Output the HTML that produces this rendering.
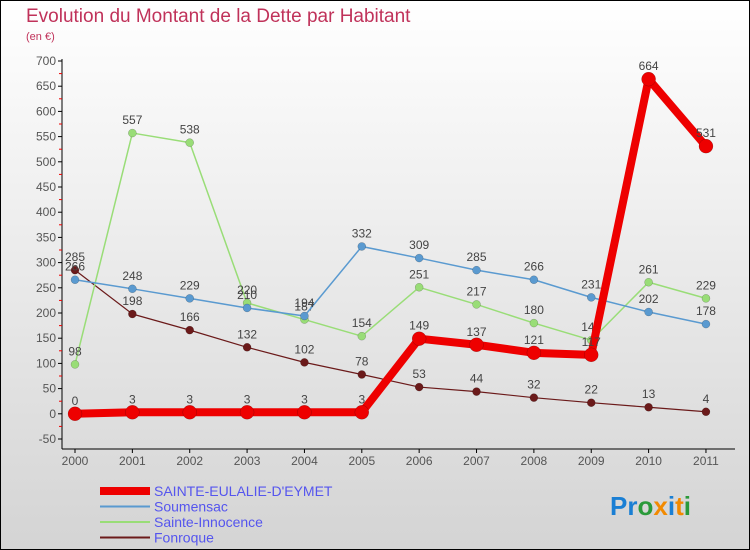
<!DOCTYPE html>
<html><head><meta charset="utf-8"><style>
body{margin:0}
svg{display:block;font-family:"Liberation Sans",sans-serif}
</style></head><body>
<svg id="c" width="750" height="550">
<defs><linearGradient id="bg" x1="0" y1="0" x2="0" y2="1"><stop offset="0" stop-color="#ffffff"/><stop offset="1" stop-color="#d4d4d4"/></linearGradient></defs>
<rect x="0.5" y="0.5" width="749" height="549" fill="url(#bg)" stroke="#000"/>
<text x="26" y="22" font-size="19" fill="#c0325a">Evolution du Montant de la Dette par Habitant</text>
<text x="26" y="40" font-size="11" fill="#c0325a">(en €)</text>
<g id="plot"></g>
<text x="610" y="515" font-size="26" font-weight="bold"><tspan fill="#1a7fd4">Pr</tspan><tspan fill="#2a9a3a">o</tspan><tspan fill="#f28a00">x</tspan><tspan fill="#1a7fd4">i</tspan><tspan fill="#f28a00">t</tspan><tspan fill="#2a9a3a">i</tspan></text>
</svg>
<script>
const years=[2000,2001,2002,2003,2004,2005,2006,2007,2008,2009,2010,2011];
const eulalie=[0,3,3,3,3,3,149,137,121,117,664,531];
const soumensac=[266,248,229,210,194,332,309,285,266,231,202,178];
const innocence=[98,557,538,220,187,154,251,217,180,146,261,229];
const fonroque=[285,198,166,132,102,78,53,44,32,22,13,4];
const yTicks=[-50,0,50,100,150,200,250,300,350,400,450,500,550,600,650,700];
const NS="http://www.w3.org/2000/svg";
const g=document.getElementById('plot');
const X=i=>75+i*57.36;
const Y=v=>413.8-v*0.504;
function mk(t,a,p){const e=document.createElementNS(NS,t);for(const k in a)e.setAttribute(k,a[k]);(p||g).appendChild(e);return e;}
// axes
let ay=mk('line',{x1:62,y1:59,x2:62,y2:449,stroke:'#000'});


let ax=mk('line',{x1:62,y1:449,x2:735,y2:449,stroke:'#000'});


yTicks.forEach(v=>{
 const y=Y(v);
 mk('line',{x1:58,y1:y,x2:62,y2:y,stroke:'#000'});
 if(v<700) mk('line',{x1:59,y1:Y(v+25),x2:62,y2:Y(v+25),stroke:'#e00'});
 const t=mk('text',{x:56,y:y+4,'font-size':12,fill:'#555','text-anchor':'end'});
 t.textContent=v;
 
 
});
years.forEach((yr,i)=>{
 mk('line',{x1:X(i),y1:449,x2:X(i),y2:453,stroke:'#000'});
 const t=mk('text',{x:X(i),y:465,'font-size':12,fill:'#555','text-anchor':'middle'});
 t.textContent=yr;
 
 
});
function series(data,color,w,r,name){
 const pl=mk('polyline',{points:data.map((v,i)=>X(i)+','+Y(v)).join(' '),fill:'none',stroke:color,'stroke-width':w,'stroke-linejoin':'round'});
 
 
 data.forEach((v,i)=>{
  const c=mk('circle',{cx:X(i),cy:Y(v),r:r,fill:color,stroke:'rgba(0,0,0,0.3)','stroke-width':0.5});
  
  
  const t=mk('text',{x:X(i),y:Y(v)-9,'font-size':12,fill:'#444','text-anchor':'middle'});
  t.textContent=v;
  
  
 });
}
series(fonroque,'#6b1a1a',1.2,4,'fonroque');
series(innocence,'#99dd77',1.5,4,'sainte-innocence');
series(soumensac,'#5a9ad0',1.5,4,'soumensac');
series(eulalie,'#ee0000',8,7,'sainte-eulalie');
const leg=[['SAINTE-EULALIE-D\'EYMET','#ee0000',8],['Soumensac','#5a9ad0',2],['Sainte-Innocence','#99dd77',2],['Fonroque','#6b1a1a',2]];
leg.forEach((l,i)=>{
 const y=491+i*15.5;
 const ln=mk('line',{x1:100,y1:y,x2:150,y2:y,stroke:l[1],'stroke-width':l[2]});
 
 
 const t=mk('text',{x:154,y:y+5,'font-size':14,fill:'#5555ee'});
 t.textContent=l[0];
 
 
});
</script>
</body></html>
